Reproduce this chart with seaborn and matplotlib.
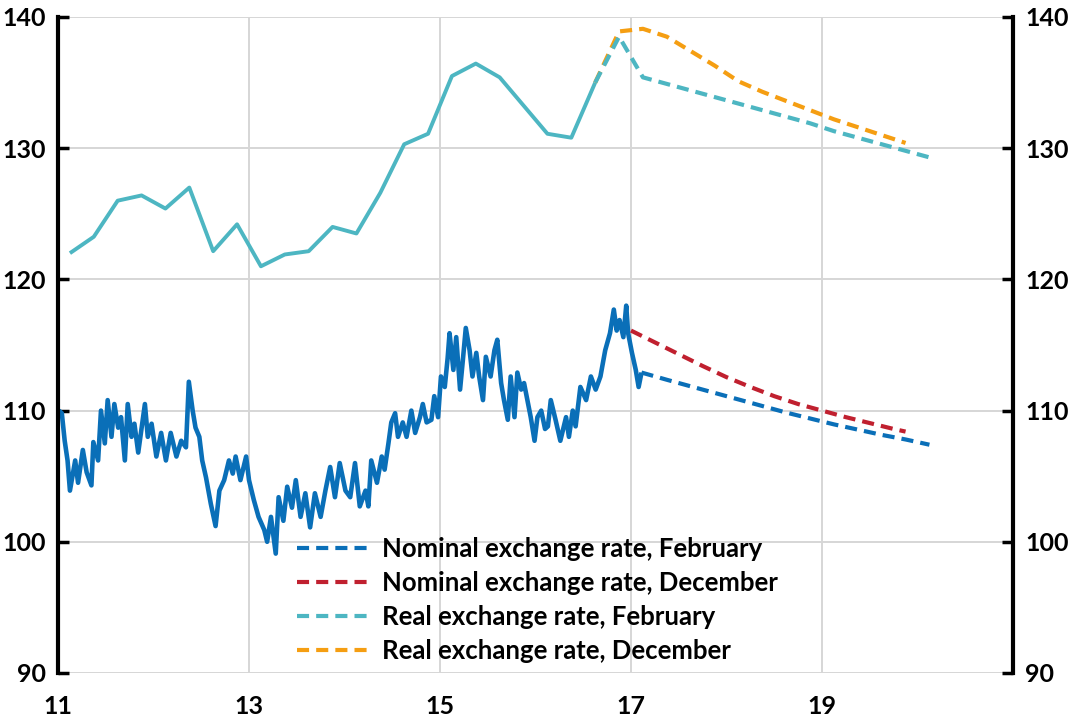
import matplotlib
matplotlib.use("Agg")
import matplotlib.pyplot as plt
import seaborn as sns
import pandas as pd

# ---------------- data ----------------
nominal_x = [11.01, 11.04, 11.07, 11.10, 11.125, 11.18, 11.21, 11.26, 11.30, 11.35, 11.37, 11.42,
             11.45, 11.49, 11.52, 11.56, 11.59, 11.63, 11.66, 11.70, 11.73, 11.77, 11.80, 11.84,
             11.91, 11.94, 11.98, 12.03, 12.08, 12.13, 12.18, 12.24, 12.29, 12.34, 12.37, 12.41,
             12.44, 12.48, 12.51, 12.55, 12.60, 12.65, 12.69, 12.74, 12.79, 12.83, 12.86, 12.91,
             12.97, 13.00, 13.05, 13.10, 13.16, 13.19, 13.23, 13.28, 13.31, 13.36, 13.40, 13.45,
             13.49, 13.54, 13.59, 13.64, 13.69, 13.75, 13.80, 13.85, 13.90, 13.95, 14.01, 14.06,
             14.11, 14.16, 14.22, 14.25, 14.28, 14.34, 14.39, 14.42, 14.46, 14.49, 14.53, 14.56,
             14.61, 14.65, 14.70, 14.74, 14.79, 14.82, 14.86, 14.91, 14.94, 14.98, 15.01, 15.05,
             15.08, 15.10, 15.14, 15.17, 15.21, 15.24, 15.27, 15.31, 15.34, 15.38, 15.41, 15.45,
             15.48, 15.53, 15.57, 15.60, 15.64, 15.67, 15.71, 15.74, 15.78, 15.81, 15.85, 15.88,
             15.92, 15.95, 15.99, 16.02, 16.06, 16.10, 16.13, 16.16, 16.21, 16.26, 16.32, 16.35,
             16.39, 16.42, 16.47, 16.53, 16.58, 16.63, 16.68, 16.73, 16.78, 16.82, 16.85, 16.88,
             16.92, 16.95, 16.97, 17.01, 17.05, 17.08, 17.11]
nominal_y = [110.0, 109.8, 107.7, 106.2, 103.9, 106.2, 104.5, 107.0, 105.3, 104.3, 107.6, 106.2,
             110.0, 107.5, 110.8, 108.0, 110.5, 108.7, 109.5, 106.2, 110.5, 108.0, 109.0, 106.8,
             110.5, 108.0, 109.0, 106.5, 108.3, 106.2, 108.3, 106.5, 107.7, 107.2, 112.2, 110.0,
             108.7, 108.0, 106.2, 104.9, 102.9, 101.2, 103.9, 104.7, 106.2, 105.2, 106.5, 104.7,
             106.5, 104.7, 103.2, 101.9, 100.9, 100.0, 101.9, 99.1, 103.4, 101.6, 104.2, 102.6,
             104.7, 101.9, 103.7, 101.1, 103.7, 101.9, 103.9, 105.7, 103.4, 106.0, 103.9, 103.4,
             106.0, 102.7, 103.9, 102.7, 106.2, 104.5, 106.5, 105.5, 107.5, 109.1, 109.8, 108.0,
             109.1, 108.0, 110.0, 108.3, 109.5, 110.5, 109.1, 109.3, 111.1, 109.5, 112.6, 111.8,
             114.0, 115.9, 113.1, 115.6, 111.6, 113.9, 116.3, 114.6, 112.6, 114.4, 112.6, 110.8,
             114.1, 112.6, 114.6, 115.4, 112.1, 110.8, 109.3, 112.6, 109.5, 112.9, 111.6, 112.1,
             110.6, 109.5, 107.7, 109.5, 110.0, 108.6, 108.8, 110.8, 109.3, 107.7, 109.5, 108.0,
             110.0, 108.8, 111.8, 110.8, 112.6, 111.6, 112.6, 114.6, 115.9, 117.7, 116.1, 116.9,
             115.6, 118.0, 115.9, 114.4, 113.1, 111.8, 112.9]

real_x = [11.125, 11.375, 11.625, 11.875, 12.125, 12.375, 12.625, 12.875, 13.125, 13.375,
          13.625, 13.875, 14.125, 14.375, 14.625, 14.875, 15.125, 15.375, 15.625, 15.875,
          16.125, 16.375, 16.625]
real_y = [122.0, 123.25, 126.0, 126.4, 125.4, 127.0, 122.15, 124.2, 121.0, 121.9,
          122.15, 124.0, 123.5, 126.6, 130.3, 131.1, 135.5, 136.45, 135.4, 133.25,
          131.1, 130.8, 135.0]

nom_feb_x = [17.11, 17.375, 17.625, 17.875, 18.125, 18.375, 18.625, 18.875, 19.125, 19.375,
             19.625, 19.875, 20.125]
nom_feb_y = [112.9, 112.35, 111.85, 111.35, 110.85, 110.35, 109.85, 109.4, 108.95, 108.55,
             108.15, 107.8, 107.4]

nom_dec_x = [17.0, 17.25, 17.5, 17.75, 18.0, 18.25, 18.5, 18.75, 19.0, 19.25, 19.5, 19.75, 19.875]
nom_dec_y = [116.1, 115.2, 114.3, 113.4, 112.55, 111.8, 111.1, 110.5, 110.0, 109.5, 109.05, 108.6, 108.4]

real_feb_x = [16.625, 16.875, 17.125, 17.375, 17.625, 17.875, 18.125, 18.375, 18.625, 18.875,
              19.125, 19.375, 19.625, 19.875, 20.125]
real_feb_y = [135.0, 138.5, 135.4, 134.9, 134.4, 133.9, 133.4, 132.9, 132.4, 131.9,
              131.3, 130.8, 130.3, 129.8, 129.3]

real_dec_x = [16.625, 16.875, 17.125, 17.375, 17.625, 17.875, 18.125, 18.375, 18.625, 18.875,
              19.125, 19.375, 19.625, 19.875]
real_dec_y = [135.0, 138.9, 139.1, 138.5, 137.4, 136.3, 135.1, 134.3, 133.6, 132.9,
              132.2, 131.6, 131.0, 130.4]

labels = ["Nominal exchange rate, February", "Nominal exchange rate, December",
          "Real exchange rate, February", "Real exchange rate, December"]
x_ticks = [11, 13, 15, 17, 19]
y_ticks = [90, 100, 110, 120, 130, 140]

# ---------------- style ----------------
sns.set_style("white")
plt.rcParams["font.family"] = ["Lato", "DejaVu Sans"]
plt.rcParams["font.weight"] = "bold"
plt.rcParams["text.color"] = "black"
plt.rcParams["xtick.color"] = "black"
plt.rcParams["ytick.color"] = "black"

C_NOM = "#0A6FB8"
C_RED = "#C0202F"
C_TEAL = "#4DB6C2"
C_ORANGE = "#F59E12"

fig = plt.figure(figsize=(10.73, 7.21), dpi=100)
ax = fig.add_axes([58 / 1073, 1 - 673 / 721, (1013 - 58) / 1073, (673 - 17) / 721])

def draw(xs, ys, color, lw, label=None, dashed=False):
    df = pd.DataFrame({"x": xs, "y": ys})
    sns.lineplot(data=df, x="x", y="y", ax=ax, color=color, linewidth=lw,
                 sort=False, estimator=None, label=label, legend=False)
    line = ax.lines[-1]
    if dashed:
        line.set_dashes((2.9, 1.7))
    line.set_solid_capstyle("butt")
    return line

draw(real_x, real_y, C_TEAL, 2.8)
draw(nominal_x, nominal_y, C_NOM, 3.3)
h4 = draw(real_dec_x, real_dec_y, C_ORANGE, 3.0, labels[3], True)
h3 = draw(real_feb_x, real_feb_y, C_TEAL, 3.0, labels[2], True)
h1 = draw(nom_feb_x, nom_feb_y, C_NOM, 3.0, labels[0], True)
h2 = draw(nom_dec_x, nom_dec_y, C_RED, 3.0, labels[1], True)

ax.set_xlim(11, 21)
ax.set_ylim(90, 140)
ax.set_xticks(x_ticks)
ax.set_xticklabels([str(t) for t in x_ticks])
ax.set_yticks(y_ticks)
ax.set_xlabel("")
ax.set_ylabel("")

ax.grid(True, color="#D6D6D6", linewidth=1.4)
ax.set_axisbelow(True)

for side in ["top", "bottom"]:
    ax.spines[side].set_visible(False)
for side in ["left", "right"]:
    ax.spines[side].set_visible(True)
    ax.spines[side].set_color("black")
    ax.spines[side].set_linewidth(3)

ax.tick_params(axis="y", which="both", left=True, right=True, labelleft=True, labelright=True,
               direction="in", length=8, width=2.5, color="black", labelcolor="black",
               pad=9, labelsize=18)
ax.tick_params(axis="x", length=0, pad=16, labelsize=18, labelcolor="black")
for lab in ax.get_xticklabels() + ax.get_yticklabels():
    lab.set_fontweight("bold")

leg = ax.legend(handles=[h1, h2, h3, h4], labels=labels, loc="upper left",
                bbox_to_anchor=(0.25, 0.208), frameon=False, fontsize=18.5,
                handlelength=2.75, handletextpad=0.58, labelspacing=0.4,
                borderaxespad=0, borderpad=0)
for t in leg.get_texts():
    t.set_fontweight("bold")
    t.set_color("black")

fig.savefig("out.png", dpi=100)
